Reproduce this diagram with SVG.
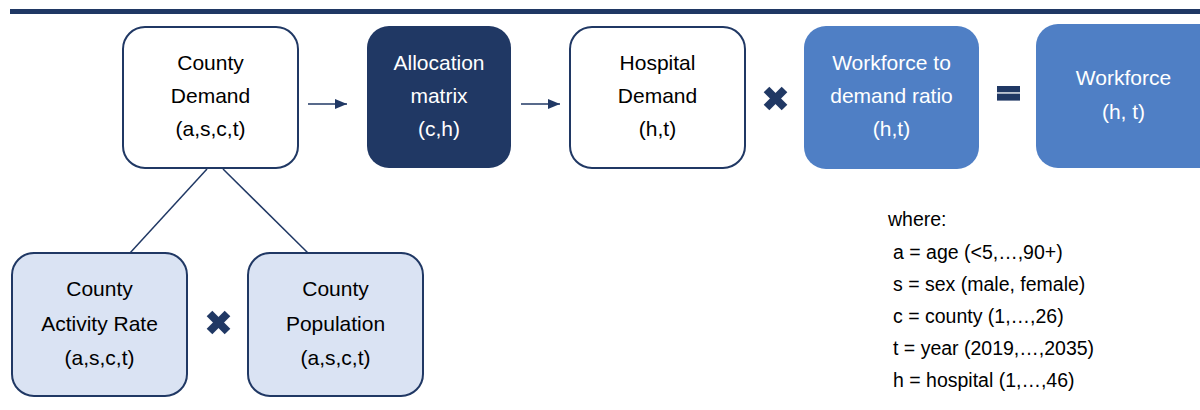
<svg xmlns="http://www.w3.org/2000/svg" width="1200" height="410" viewBox="0 0 1200 410">
  <style>
    text { font-family: "Liberation Sans", Arial, sans-serif; font-size: 21px; text-anchor: middle; }
    .dk { fill: #000000; }
    .lt { fill: #ffffff; }
    .white { fill: #ffffff; stroke: #203864; stroke-width: 2; }
    .navy { fill: #203864; }
    .mid { fill: #4F7FC5; }
    .pale { fill: #DAE3F3; stroke: #203864; stroke-width: 2; }
    .conn { stroke: #203864; stroke-width: 1.5; fill: none; }
    .legend { text-anchor: start; font-size: 19.5px; fill: #000000; }
    .xmark { stroke: #203864; stroke-width: 8; stroke-linecap: butt; }
  </style>
  <defs>
    <marker id="ah" viewBox="0 0 12 10" refX="12" refY="5" markerUnits="userSpaceOnUse" markerWidth="12" markerHeight="10" orient="auto">
      <path d="M0,0 L12,5 L0,10 Z" fill="#203864"/>
    </marker>
  </defs>
  <rect x="10" y="9" width="1190" height="5" fill="#203864"/>

  <g id="county-demand">
    <rect class="white" x="123" y="27" width="175" height="141" rx="22"/>
    <text class="dk" x="210.5" y="69.5">County</text>
    <text class="dk" x="210.5" y="102.5">Demand</text>
    <text class="dk" x="210.5" y="135.5">(a,s,c,t)</text>
  </g>
  <g id="allocation-matrix">
    <rect class="navy" x="367" y="26" width="144" height="142" rx="22"/>
    <text class="lt" x="439" y="69.5">Allocation</text>
    <text class="lt" x="439" y="102.5">matrix</text>
    <text class="lt" x="439" y="135.5">(c,h)</text>
  </g>
  <g id="hospital-demand">
    <rect class="white" x="570" y="27" width="175" height="141" rx="22"/>
    <text class="dk" x="657.5" y="69.5">Hospital</text>
    <text class="dk" x="657.5" y="102.5">Demand</text>
    <text class="dk" x="657.5" y="135.5">(h,t)</text>
  </g>
  <g id="ratio">
    <rect class="mid" x="804" y="26" width="175" height="143" rx="22"/>
    <text class="lt" x="891.5" y="69.5">Workforce to</text>
    <text class="lt" x="891.5" y="102.5">demand ratio</text>
    <text class="lt" x="891.5" y="135.5">(h,t)</text>
  </g>
  <g id="workforce">
    <rect class="mid" x="1036" y="24" width="190" height="144" rx="22"/>
    <text class="lt" x="1123.5" y="84.5">Workforce</text>
    <text class="lt" x="1123.5" y="118.5">(h, t)</text>
  </g>
  <g id="activity-rate">
    <rect class="pale" x="12" y="253" width="175" height="143" rx="22"/>
    <text class="dk" x="99.5" y="295.5">County</text>
    <text class="dk" x="99.5" y="330.5">Activity Rate</text>
    <text class="dk" x="99.5" y="364.5">(a,s,c,t)</text>
  </g>
  <g id="population">
    <rect class="pale" x="248" y="253" width="175" height="143" rx="22"/>
    <text class="dk" x="335.5" y="295.5">County</text>
    <text class="dk" x="335.5" y="330.5">Population</text>
    <text class="dk" x="335.5" y="364.5">(a,s,c,t)</text>
  </g>

  <g id="connectors">
    <line class="conn" x1="308" y1="104" x2="347" y2="104" marker-end="url(#ah)"/>
    <line class="conn" x1="521" y1="104" x2="560" y2="104" marker-end="url(#ah)"/>
    <line class="conn" x1="207" y1="169" x2="130" y2="253"/>
    <line class="conn" x1="223" y1="169" x2="308" y2="253"/>
  </g>

  <g id="operators">
    <g transform="translate(775.5,98.5)">
      <line class="xmark" x1="-9" y1="-9" x2="9" y2="9"/>
      <line class="xmark" x1="-9" y1="9" x2="9" y2="-9"/>
    </g>
    <g transform="translate(218.5,322.5)">
      <line class="xmark" x1="-9" y1="-9" x2="9" y2="9"/>
      <line class="xmark" x1="-9" y1="9" x2="9" y2="-9"/>
    </g>
    <rect x="997" y="86" width="23" height="6.3" fill="#203864"/>
    <rect x="997" y="93.6" width="23" height="7" fill="#203864"/>
  </g>

  <g id="legend">
    <text class="legend" x="888" y="225.5">where:</text>
    <text class="legend" x="893" y="258.5">a = age (&lt;5,…,90+)</text>
    <text class="legend" x="893" y="290.5">s = sex (male, female)</text>
    <text class="legend" x="893" y="322.5">c = county (1,…,26)</text>
    <text class="legend" x="893" y="354.5">t = year (2019,…,2035)</text>
    <text class="legend" x="893" y="386.5">h = hospital (1,…,46)</text>
  </g>
</svg>
